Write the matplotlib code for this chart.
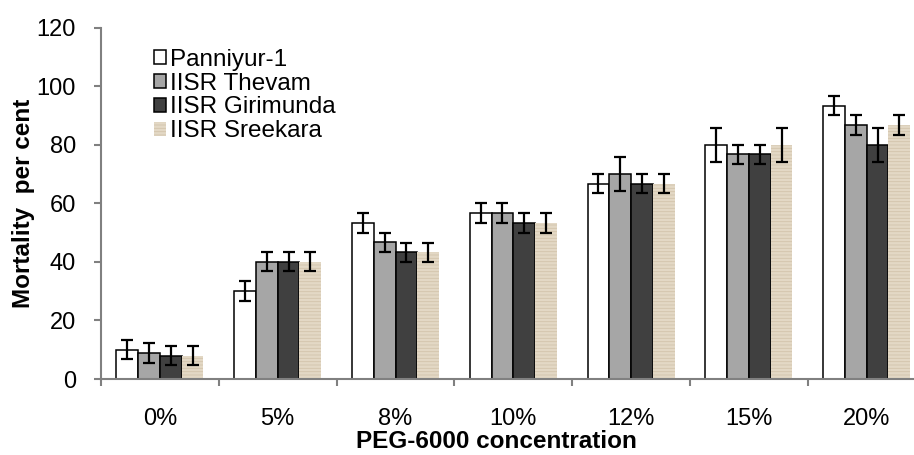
import matplotlib.pyplot as plt
import numpy as np

plt.rcParams['font.family'] = ['Liberation Sans', 'DejaVu Sans']
plt.rcParams['hatch.linewidth'] = 0.6

# donnees
concentrations = ['0%', '5%', '8%', '10%', '12%', '15%', '20%']
varietes = ['Panniyur-1', 'IISR Thevam', 'IISR Girimunda', 'IISR Sreekara']
panniyur = [10, 30, 53.3, 56.7, 66.7, 80, 93.3]
thevam = [8.9, 40, 46.7, 56.7, 70, 76.7, 86.7]
girimunda = [8, 40, 43.3, 53.3, 66.7, 76.7, 80]
sreekara = [8, 40, 43.3, 53.3, 66.7, 80, 86.7]
err_panniyur = [3.3, 3.3, 3.3, 3.3, 3.3, 5.8, 3.3]
err_thevam = [3.3, 3.3, 3.3, 3.3, 5.8, 3.3, 3.3]
err_girimunda = [3.3, 3.3, 3.3, 3.3, 3.3, 3.3, 5.8]
err_sreekara = [3.3, 3.3, 3.3, 3.3, 3.3, 5.8, 3.3]

series = [panniyur, thevam, girimunda, sreekara]
erreurs = [err_panniyur, err_thevam, err_girimunda, err_sreekara]
couleurs = ['white', '#a6a6a6', '#404040', '#e3d8c5']

fig = plt.figure(figsize=(9.14, 4.55), dpi=100)
ax = fig.add_axes([101/914, 1-379/455, 824.6/914, (379-27.5)/455])

x = np.arange(len(concentrations))
w = 0.185
for i in range(4):
    pos = x + (i - 1.5) * w
    if i < 3:
        ax.bar(pos, series[i], w, color=couleurs[i], edgecolor='black', linewidth=1.1,
               label=varietes[i], zorder=2)
    else:
        #texture "toile" approchee par des hachures
        ax.bar(pos, series[i], w, color=couleurs[i], edgecolor='#d2c4ab', linewidth=0,
               hatch='-----', label=varietes[i], zorder=2)
    ax.errorbar(pos, series[i], yerr=erreurs[i], fmt='none', ecolor='black',
                elinewidth=1.6, capsize=4.5, capthick=1.6, zorder=3)

ax.set_xlim(-0.5, len(concentrations) - 0.5)
ax.set_ylim(0, 120)
ax.set_yticks(range(0, 121, 20))
ax.set_xticks(x)
ax.set_xticklabels(concentrations)
ax.set_xticks(np.arange(-0.5, len(concentrations), 1), minor=True)
ax.tick_params(axis='x', which='major', length=0, pad=21, labelsize=17)
ax.tick_params(axis='x', which='minor', length=5, width=1.5, color='#808080')
ax.tick_params(axis='y', length=5, width=1.5, color='#808080', labelsize=17, pad=13)

for s in ['top', 'right']:
    ax.spines[s].set_visible(False)
for s in ['left', 'bottom']:
    ax.spines[s].set_color('#808080')
    ax.spines[s].set_linewidth(1.5)

ax.set_xlabel('PEG-6000 concentration', fontsize=17.5, fontweight='bold')
ax.xaxis.set_label_coords(0.48, -0.145)
ax.set_ylabel('Mortality  per cent', fontsize=17.5, fontweight='bold', labelpad=1)

ax.legend(loc='upper left', bbox_to_anchor=(0.064, 0.94), frameon=False, fontsize=17.5,
          handlelength=0.5, handleheight=0.5, handletextpad=0.15, labelspacing=0.08,
          borderaxespad=0, borderpad=0)

plt.savefig('out.png', dpi=100)
